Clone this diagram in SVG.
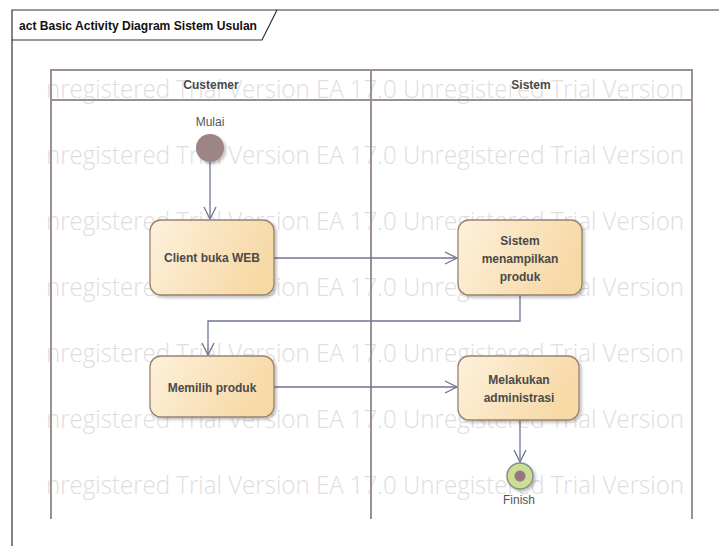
<svg xmlns="http://www.w3.org/2000/svg" width="719" height="546" viewBox="0 0 719 546">
<defs>
<style>
.wm{font-family:"Open Sans","Noto Sans",sans-serif;font-size:25px;font-weight:300;fill:#dedede}
.lane{fill:none;stroke:#9c9090;stroke-width:2}
.lbl{font-family:"Liberation Sans","Noto Sans",sans-serif;font-size:12px;font-weight:bold;fill:#4a4a4a;text-anchor:middle}
.box{fill:url(#g);stroke:#9a8270;stroke-width:1.3}
.conn{fill:none;stroke:#6e7592;stroke-width:1.3}
.small{font-family:"Liberation Sans","Noto Sans",sans-serif;font-size:12px;fill:#555;text-anchor:middle}
</style>
<linearGradient id="g" x1="0" y1="0" x2="1" y2="0.3">
<stop offset="0" stop-color="#fdf1dc"/>
<stop offset="1" stop-color="#f7d9a6"/>
</linearGradient>
<filter id="sh" x="-10%" y="-10%" width="130%" height="130%">
<feDropShadow dx="2" dy="2" stdDeviation="1.5" flood-color="#000" flood-opacity="0.25"/>
</filter>
<marker id="arr" viewBox="0 0 14 14" refX="13" refY="7" markerWidth="14" markerHeight="14" markerUnits="userSpaceOnUse" orient="auto">
<path d="M1,1 L13,7 L1,13" fill="none" stroke="#6e7592" stroke-width="1.3"/>
</marker>
</defs>
<rect width="719" height="546" fill="#fff"/>
<g id="watermark">
<text class="wm" x="46" y="98" textLength="638" lengthAdjust="spacingAndGlyphs">nregistered Trial Version  EA 17.0 Unregistered Trial Version</text>
<text class="wm" x="46" y="164" textLength="638" lengthAdjust="spacingAndGlyphs">nregistered Trial Version  EA 17.0 Unregistered Trial Version</text>
<text class="wm" x="46" y="230" textLength="638" lengthAdjust="spacingAndGlyphs">nregistered Trial Version  EA 17.0 Unregistered Trial Version</text>
<text class="wm" x="46" y="296" textLength="638" lengthAdjust="spacingAndGlyphs">nregistered Trial Version  EA 17.0 Unregistered Trial Version</text>
<text class="wm" x="46" y="362" textLength="638" lengthAdjust="spacingAndGlyphs">nregistered Trial Version  EA 17.0 Unregistered Trial Version</text>
<text class="wm" x="46" y="428" textLength="638" lengthAdjust="spacingAndGlyphs">nregistered Trial Version  EA 17.0 Unregistered Trial Version</text>
<text class="wm" x="46" y="494" textLength="638" lengthAdjust="spacingAndGlyphs">nregistered Trial Version  EA 17.0 Unregistered Trial Version</text>
</g>
<g id="frame">
<path d="M12,546 L12,10 L719,10" fill="none" stroke="#333" stroke-width="1.2"/>
<path d="M12,40 L262,40 L277,10" fill="none" stroke="#333" stroke-width="1.2"/>
<text x="19" y="30" font-family="Liberation Sans,Noto Sans,sans-serif" font-size="13" font-weight="bold" fill="#111" textLength="238" lengthAdjust="spacingAndGlyphs">act Basic Activity Diagram Sistem Usulan</text>
</g>
<g id="lanes">
<path class="lane" d="M51,519 L51,70 L692,70 L692,519"/>
<line class="lane" x1="51" y1="100" x2="692" y2="100"/>
<line class="lane" x1="371" y1="70" x2="371" y2="519"/>
<text class="lbl" x="211" y="89">Custemer</text>
<text class="lbl" x="531" y="89">Sistem</text>
</g>
<g id="connectors">
<line class="conn" x1="210" y1="162" x2="210" y2="219" marker-end="url(#arr)"/>
<line class="conn" x1="274" y1="258" x2="457" y2="258" marker-end="url(#arr)"/>
<path class="conn" d="M520,295 L520,321 L208,321 L208,355" marker-end="url(#arr)"/>
<line class="conn" x1="274" y1="387" x2="457" y2="387" marker-end="url(#arr)"/>
<line class="conn" x1="520" y1="420" x2="520" y2="462" marker-end="url(#arr)"/>
</g>
<g id="start">
<circle cx="210" cy="148" r="14" fill="#9e8585" filter="url(#sh)"/>
<text class="small" x="210" y="126">Mulai</text>
</g>
<g id="client-buka-web">
<rect class="box" x="150" y="220" width="124" height="75" rx="11" filter="url(#sh)"/>
<text class="lbl" x="212" y="262">Client buka WEB</text>
</g>
<g id="sistem-menampilkan-produk">
<rect class="box" x="458" y="220" width="124" height="75" rx="11" filter="url(#sh)"/>
<text class="lbl" x="520" y="245">Sistem</text>
<text class="lbl" x="520" y="263">menampilkan</text>
<text class="lbl" x="520" y="281">produk</text>
</g>
<g id="memilih-produk">
<rect class="box" x="150" y="356" width="124" height="61" rx="11" filter="url(#sh)"/>
<text class="lbl" x="212" y="392">Memilih produk</text>
</g>
<g id="melakukan-administrasi">
<rect class="box" x="458" y="356" width="121" height="64" rx="11" filter="url(#sh)"/>
<text class="lbl" x="519" y="384">Melakukan</text>
<text class="lbl" x="519" y="402">administrasi</text>
</g>
<g id="finish">
<circle cx="520" cy="476" r="13" fill="#c8df95" stroke="#8a8a8a" stroke-width="1.5" filter="url(#sh)"/>
<circle cx="520" cy="476" r="5.5" fill="#9a7585"/>
<text class="small" x="519" y="504" font-size="11">Finish</text>
</g>
</svg>
